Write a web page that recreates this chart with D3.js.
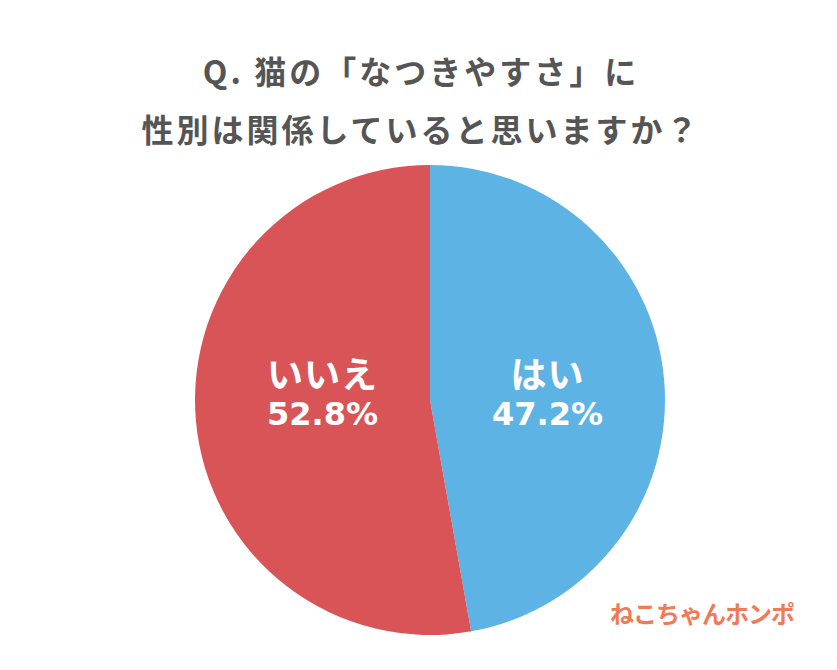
<!DOCTYPE html>
<html><head><meta charset="utf-8">
<script src="https://cdn.jsdelivr.net/npm/d3@7"></script>
<style>body{margin:0;background:#fff;}svg{display:block;}</style>
</head><body>
<svg id="c" width="837" height="670"></svg>
<script>
const titleLines = ["Q. 猫の「なつきやすさ」に", "性別は関係していると思いますか？"];
const categories = ["はい", "いいえ"];
const values = [47.2, 52.8];
const colors = ["#5db4e4", "#d95457"];
const logoText = "ねこちゃんホンポ";

const svg = d3.select("#c");
const font = "'Noto Sans CJK JP', 'Noto Sans', sans-serif";
const numFont = "'DejaVu Sans', sans-serif";
const cx = 430, cy = 400, R = 235;

svg.selectAll("text.title").data(titleLines).join("text")
  .attr("class","title")
  .attr("x", 421).attr("y", (d,i) => 84 + i*58)
  .attr("text-anchor","middle")
  .attr("font-family", font).attr("font-weight", 700)
  .attr("font-size", 32).attr("letter-spacing", 3).attr("fill", "#555")
  .text(d => d);

const pie = d3.pie().sort(null).value(d => d)(values);
const arc = d3.arc().innerRadius(0).outerRadius(R);
const g = svg.append("g").attr("transform", `translate(${cx},${cy})`);
g.selectAll("path").data(pie).join("path")
  .attr("d", arc).attr("fill", (d,i) => colors[i]);

const lab = d3.arc().innerRadius(0).outerRadius(236);
pie.forEach((d,i) => {
  const [x] = lab.centroid(d);
  const xx = x + (i === 1 ? 10 : 0);
  g.append("text").attr("text-anchor","middle")
    .attr("x", xx).attr("y", -12)
    .attr("font-family", font).attr("font-weight", 700)
    .attr("font-size", 36).attr("letter-spacing", 1).attr("fill", "#fff")
    .text(categories[i]);
  g.append("text").attr("text-anchor","middle")
    .attr("x", xx).attr("y", 25)
    .attr("font-family", numFont).attr("font-weight", 700)
    .attr("font-size", 32).attr("fill", "#fff")
    .text(values[i].toFixed(1) + "%");
});

svg.append("text").attr("x", 702).attr("y", 623)
  .attr("text-anchor","middle")
  .attr("font-family", font).attr("font-weight", 700)
  .attr("font-size", 24).attr("fill", "#f07a55")
  .attr("letter-spacing", -1)
  .text(logoText);
</script>
</body></html>
